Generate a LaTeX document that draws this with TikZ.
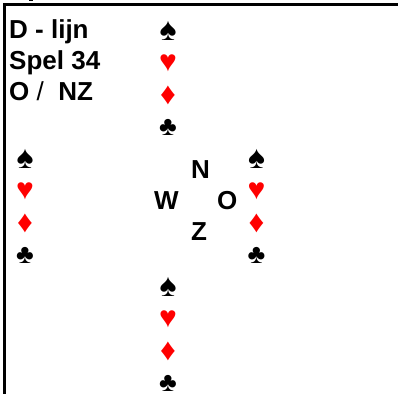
\documentclass[tikz,border=0pt]{standalone}
\usepackage{fontspec}
\setmainfont{Liberation Sans}
\tikzset{x=1pt,y=-1pt,
 lab/.style={font=\fontsize{26}{26}\selectfont\bfseries,inner sep=0pt,anchor=base west,text=black},
 suitb/.style={inner sep=0pt,text=black},
 suitr/.style={suitb,text=red},
 frameline/.style={line width=3pt,black}}
\begin{document}
\begin{tikzpicture}
\useasboundingbox (0,0) rectangle (398,394);
\fill[white] (0,0) rectangle (398,394);
\coordinate (tl) at (4.5,4.5);
\coordinate (tr) at (398,4.5);
\coordinate (bl) at (4.5,394);
\draw[frameline] (tr) -- (tl) -- (bl);
\fill[black] (28.5,0) rectangle (33,0.8);
\node[lab] (t1) at (9,38) {D - lijn};
\node[lab] (t2) at (9,69) {Spel 34};
\node[lab] (t3) at (9,100) {O {\mdseries /}\ \ NZ};
\foreach \n/\x/\y in {n/168/0,w/25/128,e/256.5/128,s/168/256}{
 \node[suitb,font=\fontsize{32}{32}\selectfont] (\n s) at (\x,30.5+\y) {♠};
 \node[suitr,font=\fontsize{30}{30}\selectfont] (\n h) at (\x,63+\y) {♥};
 \node[suitr,font=\fontsize{31}{31}\selectfont] (\n d) at (\x,95+\y) {♦};
 \node[suitb,font=\fontsize{27}{27}\selectfont] (\n c) at (\x,127+\y) {♣};
}
\node[lab] (N) at (191,178) {N};
\node[lab] (W) at (154,209) {W};
\node[lab] (O) at (217,209) {O};
\node[lab] (Z) at (191,240) {Z};
\end{tikzpicture}
\end{document}
